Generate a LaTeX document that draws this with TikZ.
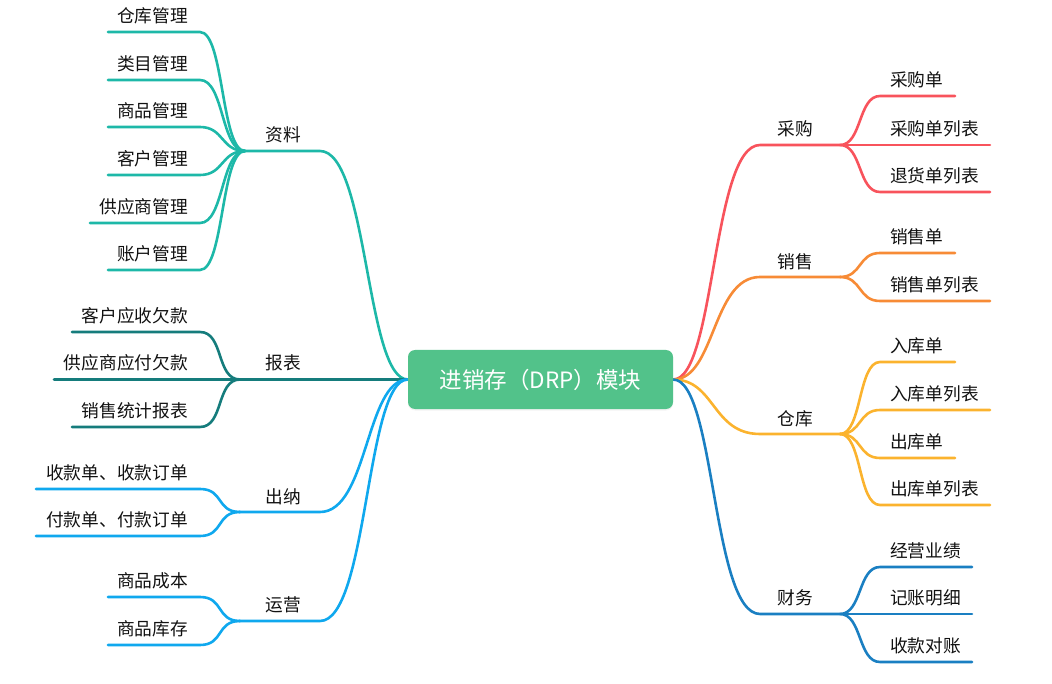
\documentclass[tikz,border=0pt]{standalone}
\usepackage{fontspec}
\setmainfont{Noto Sans CJK SC}
\usetikzlibrary{shadows,backgrounds}
\definecolor{cgreen}{HTML}{52C28A}
\definecolor{cteal}{HTML}{1DB8A8}
\definecolor{cdteal}{HTML}{157C7C}
\definecolor{csky}{HTML}{0FA8EE}
\definecolor{cred}{HTML}{F8535C}
\definecolor{corange}{HTML}{F78B36}
\definecolor{cyellow}{HTML}{FBB32E}
\definecolor{cblue}{HTML}{1A7FC2}
\definecolor{ctext}{HTML}{111111}
\tikzset{
  lbl/.style={font=\fontsize{17.7}{20}\selectfont, text=ctext, inner sep=0pt},
  br/.style={line width=2.6pt, line cap=round},
}
\newcommand\rsub[6]{% color, parent, name, y, xend, text
  \coordinate (#3-s) at (880,#4);
  \coordinate (#3-e) at (#5,#4);
  \draw[br,#1] (#2) .. controls +(22,0) and +(-22,0) .. (#3-s) -- (#3-e);
  \node[lbl,anchor=west] (#3) at (890,#4-16.5) {#6};
}
\newcommand\lsub[6]{% color, parent, name, y, xend, text
  \coordinate (#3-s) at (200,#4);
  \coordinate (#3-e) at (#5,#4);
  \draw[br,#1] (#2) .. controls +(-24,0) and +(24,0) .. (#3-s) -- (#3-e);
  \node[lbl,anchor=east] (#3) at (188,#4-16.5) {#6};
}
\begin{document}
\begin{tikzpicture}[x=1pt,y=-1pt]
\useasboundingbox (0,0) rectangle (1052,684);

% center
\node[fill=cgreen, rounded corners=7pt, minimum width=265pt, minimum height=59pt,
      text=white, inner sep=0pt, font=\fontsize{22.5}{26}\selectfont,
      drop shadow={opacity=0.10, shadow xshift=0pt, shadow yshift=-1.5pt}] (root) at (540.5,379.5) {进销存（DRP）模块};

\begin{scope}[on background layer]
% ---------- right side ----------
% 采购
\coordinate (cgA) at (760,145); \coordinate (cgB) at (840,145);
\draw[br,cred] (root.east) .. controls +(42,0) and +(-48,0) .. (cgA) -- (cgB);
\node[lbl] (cg) at (795,129) {采购};
\rsub{cred}{cgB}{cg1}{96}{955}{采购单}
\rsub{cred}{cgB}{cg2}{145}{990}{采购单列表}
\rsub{cred}{cgB}{cg3}{192}{990}{退货单列表}

% 销售
\coordinate (xsA) at (760,277); \coordinate (xsB) at (840,277);
\draw[br,corange] (root.east) .. controls +(42,0) and +(-48,0) .. (xsA) -- (xsB);
\node[lbl] (xs) at (795,262) {销售};
\rsub{corange}{xsB}{xs1}{253}{955}{销售单}
\rsub{corange}{xsB}{xs2}{301}{990}{销售单列表}

% 仓库
\coordinate (ckA) at (760,434); \coordinate (ckB) at (840,434);
\draw[br,cyellow] (root.east) .. controls +(42,0) and +(-48,0) .. (ckA) -- (ckB);
\node[lbl] (ck) at (795,419) {仓库};
\rsub{cyellow}{ckB}{ck1}{362}{955}{入库单}
\rsub{cyellow}{ckB}{ck2}{410}{990}{入库单列表}
\rsub{cyellow}{ckB}{ck3}{458}{955}{出库单}
\rsub{cyellow}{ckB}{ck4}{505}{990}{出库单列表}

% 财务
\coordinate (cwA) at (760,614); \coordinate (cwB) at (840,614);
\draw[br,cblue] (root.east) .. controls +(42,0) and +(-48,0) .. (cwA) -- (cwB);
\node[lbl] (cw) at (795,598) {财务};
\rsub{cblue}{cwB}{cw1}{567}{972}{经营业绩}
\rsub{cblue}{cwB}{cw2}{614}{972}{记账明细}
\rsub{cblue}{cwB}{cw3}{662}{972}{收款对账}

% ---------- left side ----------
% 资料
\coordinate (zlA) at (320,151); \coordinate (zlB) at (245,151);
\draw[br,cteal] (root.west) .. controls +(-42,0) and +(48,0) .. (zlA) -- (zlB);
\node[lbl] (zl) at (283,135) {资料};
\lsub{cteal}{zlB}{zl1}{32}{108}{仓库管理}
\lsub{cteal}{zlB}{zl2}{80}{108}{类目管理}
\lsub{cteal}{zlB}{zl3}{127}{108}{商品管理}
\lsub{cteal}{zlB}{zl4}{175}{108}{客户管理}
\lsub{cteal}{zlB}{zl5}{223}{90}{供应商管理}
\lsub{cteal}{zlB}{zl6}{270}{108}{账户管理}

% 报表
\coordinate (bbB) at (240,379.5);
\draw[br,cdteal] (root.west) -- (bbB);
\node[lbl] (bb) at (283,363) {报表};
\lsub{cdteal}{bbB}{bb1}{332}{72}{客户应收欠款}
\lsub{cdteal}{bbB}{bb2}{379.5}{54}{供应商应付欠款}
\lsub{cdteal}{bbB}{bb3}{427}{72}{销售统计报表}

% 出纳
\coordinate (cnA) at (320,512); \coordinate (cnB) at (240,512);
\draw[br,csky] (root.west) .. controls +(-42,0) and +(48,0) .. (cnA) -- (cnB);
\node[lbl] (cn) at (283,497) {出纳};
\lsub{csky}{cnB}{cn1}{489}{36}{收款单、收款订单}
\lsub{csky}{cnB}{cn2}{536}{36}{付款单、付款订单}

% 运营
\coordinate (yyA) at (320,621); \coordinate (yyB) at (240,621);
\draw[br,csky] (root.west) .. controls +(-42,0) and +(48,0) .. (yyA) -- (yyB);
\node[lbl] (yy) at (283,605) {运营};
\lsub{csky}{yyB}{yy1}{597}{108}{商品成本}
\lsub{csky}{yyB}{yy2}{645}{108}{商品库存}
\end{scope}
\end{tikzpicture}
\end{document}
